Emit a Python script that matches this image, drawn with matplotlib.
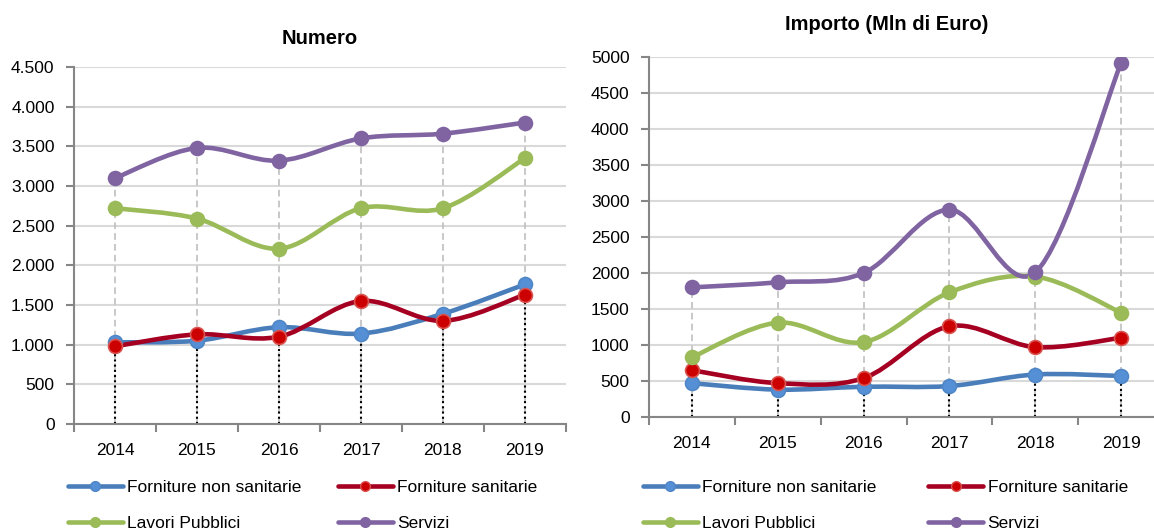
import numpy as np
import matplotlib
matplotlib.use('Agg')
import matplotlib.pyplot as plt
from matplotlib.path import Path
from matplotlib.patches import PathPatch
from matplotlib.lines import Line2D

plt.rcParams['font.family'] = ['Liberation Sans', 'DejaVu Sans']

# Data
years = ['2014', '2015', '2016', '2017', '2018', '2019']
series_names = ['Forniture non sanitarie', 'Forniture sanitarie', 'Lavori Pubblici', 'Servizi']

numero_non_sanitarie = [1030, 1050, 1220, 1140, 1390, 1760]
numero_sanitarie = [980, 1130, 1100, 1550, 1300, 1630]
numero_lavori = [2720, 2590, 2210, 2720, 2720, 3350]
numero_servizi = [3100, 3480, 3320, 3600, 3660, 3800]

importo_non_sanitarie = [470, 380, 420, 430, 590, 570]
importo_sanitarie = [650, 470, 540, 1260, 970, 1100]
importo_lavori = [830, 1310, 1040, 1730, 1950, 1450]
importo_servizi = [1800, 1870, 2000, 2880, 2010, 4920]

numero_yticks = [0, 500, 1000, 1500, 2000, 2500, 3000, 3500, 4000, 4500]
numero_ylabels = ['0', '500', '1.000', '1.500', '2.000', '2.500', '3.000', '3.500', '4.000', '4.500']
importo_yticks = [0, 500, 1000, 1500, 2000, 2500, 3000, 3500, 4000, 4500, 5000]
importo_ylabels = [str(v) for v in importo_yticks]

# style per series: line colour, marker face, marker edge
styles = [('#4A7EBB', '#5590D6', '#4F86C6'),
          ('#A50021', '#CC0000', '#D9534F'),
          ('#9BBB59', '#9BBB59', '#9BBB59'),
          ('#8064A2', '#8064A2', '#8064A2')]


def smooth_path(xs, ys):
    # Catmull-Rom style bezier, like Excel's "smoothed line"
    pts = np.column_stack([xs, ys]).astype(float)
    n = len(pts)
    verts = [pts[0]]
    codes = [Path.MOVETO]
    for i in range(n - 1):
        p0 = pts[i - 1] if i > 0 else pts[i]
        p1 = pts[i]
        p2 = pts[i + 1]
        p3 = pts[i + 2] if i + 2 < n else pts[i + 1]
        c1 = p1 + (p2 - p0) / 6.0
        c2 = p2 - (p3 - p1) / 6.0
        verts += [c1, c2, p2]
        codes += [Path.CURVE4] * 3
    return Path(verts, codes)


def draw_panel(ax, data, yticks, ylabels):
    x = np.arange(len(years))
    arr = np.array(data)
    top = arr.max(axis=0)
    low = arr.min(axis=0)
    # drop lines
    ax.vlines(x, 0, top, colors='#BFBFBF', linestyles=(0, (4, 2.5)), lw=1.2, zorder=2)
    ax.vlines(x, 0, low, colors='black', linestyles=(0, (1, 1.5)), lw=1.5, zorder=2.5)
    for vals, (lc, mf, me) in zip(data, styles):
        ax.add_patch(PathPatch(smooth_path(x, vals), fill=False, edgecolor=lc,
                               lw=3.3, capstyle='round', joinstyle='round', zorder=3))
        ax.plot(x, vals, ls='none', marker='o', ms=10, mfc=mf, mec=me, mew=1.2, zorder=4)

    ax.set_xlim(-0.5, len(years) - 0.5)
    ax.set_ylim(yticks[0], yticks[-1])
    ax.set_yticks(yticks)
    ax.set_yticklabels(ylabels)
    ax.set_xticks(x)
    ax.set_xticklabels(years)
    ax.set_xticks(np.arange(-0.5, len(years)), minor=True)
    ax.tick_params(axis='x', which='major', length=0, pad=14, labelsize=12.5)
    ax.tick_params(axis='x', which='minor', length=6, width=1.5, color='#868686', direction='out')
    ax.tick_params(axis='y', length=6, width=1.5, color='#868686', pad=8, labelsize=12.5)
    ax.grid(axis='y', color='#D9D9D9', lw=1.5, zorder=0)
    ax.set_axisbelow(True)
    for s in ['top', 'right']:
        ax.spines[s].set_visible(False)
    for s in ['left', 'bottom']:
        ax.spines[s].set_color('#868686')
        ax.spines[s].set_linewidth(1.5)
        ax.spines[s].set_zorder(5)


fig = plt.figure(figsize=(11.54, 5.31), dpi=100)
ax1 = fig.add_axes([0.0641, 0.2015, 0.4263, 0.6723])
ax2 = fig.add_axes([0.5624, 0.2147, 0.4463, 0.6780])

draw_panel(ax1, [numero_non_sanitarie, numero_sanitarie, numero_lavori, numero_servizi],
           numero_yticks, numero_ylabels)
draw_panel(ax2, [importo_non_sanitarie, importo_sanitarie, importo_lavori, importo_servizi],
           importo_yticks, importo_ylabels)

fig.text(320 / 1154, 1 - 38 / 531, 'Numero', ha='center', va='center',
         fontsize=14.5, fontweight='bold')
fig.text(887 / 1154, 1 - 25 / 531, 'Importo (Mln di Euro)', ha='center', va='center',
         fontsize=14.5, fontweight='bold')

handles = [Line2D([], [], color=lc, lw=3.3, marker='o', ms=7, mfc=mf, mec=me,
                  solid_capstyle='round') for lc, mf, me in styles]
# legend fills column by column, so reorder to read row by row
order = [0, 2, 1, 3]
leg_handles = [handles[i] for i in order]
leg_labels = [series_names[i] for i in order]

for x0, colsp in [(68 / 1154, 2.1), (643 / 1154, 3.0)]:
    fig.legend(leg_handles, leg_labels, loc='upper left', bbox_to_anchor=(x0, 1 - 480 / 531),
               ncol=2, frameon=False, fontsize=12.5, handlelength=3.15, handletextpad=0.25,
               columnspacing=colsp, labelspacing=1.2, borderpad=0, borderaxespad=0)

fig.savefig('out.png', dpi=100)
